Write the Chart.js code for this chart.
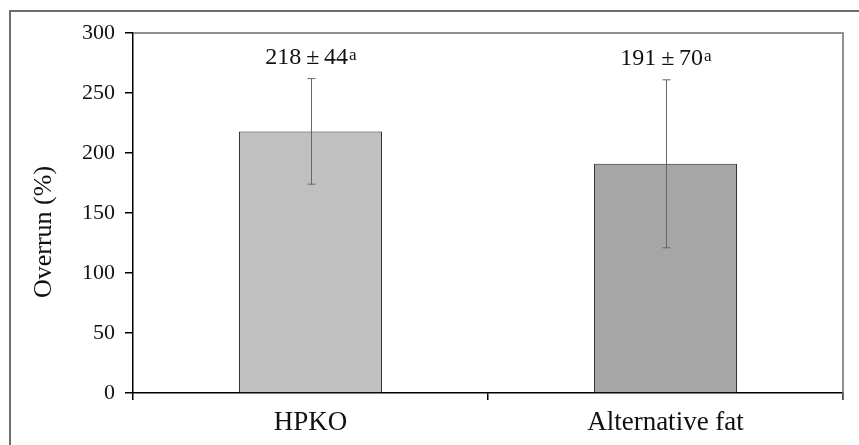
<!DOCTYPE html>
<html>
<head>
<meta charset="utf-8">
<title>Overrun</title>
<script src="https://cdn.jsdelivr.net/npm/chart.js@4"></script>
<style>
  html, body { margin: 0; padding: 0; background: #fff; }
  #wrap { position: relative; width: 859px; height: 445px; overflow: hidden; }
  #frame { position: absolute; left: 9px; top: 10px; width: 900px; height: 500px;
           border-left: 2px solid #6e6e6e; border-top: 2px solid #6e6e6e; }
  #chart { position: absolute; left: 0; top: 0; }
</style>
</head>
<body>
<div id="wrap">
  <div id="frame"></div>
  <canvas id="chart" width="859" height="445"></canvas>
</div>
<script>
const categories = ['HPKO', 'Alternative fat'];
const overrun = [218, 191];
const overrunSd = [44, 70];
const sigLetters = ['a', 'a'];
const barColors = ['#c0c0c0', '#a6a6a6'];
const yMin = 0;
const yMax = 300;
const yStep = 50;

const serif = '"Liberation Serif", "Times New Roman", serif';

// error bars, value labels, box outline and y title
const extras = {
  id: 'extras',
  afterDatasetsDraw(chart) {
    const { ctx, chartArea, scales: { y } } = chart;
    const meta = chart.getDatasetMeta(0);
    ctx.save();

    // top and right edges of the plot box
    ctx.strokeStyle = '#6e6e6e';
    ctx.lineWidth = 1.5;
    ctx.beginPath();
    ctx.moveTo(chartArea.left, chartArea.top);
    ctx.lineTo(chartArea.right, chartArea.top);
    ctx.lineTo(chartArea.right, chartArea.bottom + 7);
    ctx.stroke();

    meta.data.forEach((bar, i) => {
      const cx = Math.round(bar.x) + 0.5;
      const hi = y.getPixelForValue(overrun[i] + overrunSd[i]);
      const lo = y.getPixelForValue(overrun[i] - overrunSd[i]);
      ctx.strokeStyle = '#666';
      ctx.lineWidth = 1;
      ctx.beginPath();
      ctx.moveTo(cx, hi); ctx.lineTo(cx, lo);
      ctx.moveTo(cx - 4, hi); ctx.lineTo(cx + 4, hi);
      ctx.moveTo(cx - 4, lo); ctx.lineTo(cx + 4, lo);
      ctx.stroke();

      const main = overrun[i] + '\u2009\u00b1\u2009' + overrunSd[i];
      ctx.fillStyle = '#111';
      ctx.textBaseline = 'alphabetic';
      ctx.font = '24px ' + serif;
      const w1 = ctx.measureText(main).width;
      ctx.font = '17px ' + serif;
      const w2 = ctx.measureText(sigLetters[i]).width;
      const x0 = bar.x - (w1 + w2) / 2;
      const base = hi - 15;
      ctx.font = '24px ' + serif;
      ctx.textAlign = 'left';
      ctx.fillText(main, x0, base);
      ctx.font = '17px ' + serif;
      ctx.fillText(sigLetters[i], x0 + w1 + 1, base - 4);
    });

    // y axis title
    ctx.translate(44, (chartArea.top + chartArea.bottom) / 2 + 19);
    ctx.rotate(-Math.PI / 2);
    ctx.font = '26px ' + serif;
    ctx.fillStyle = '#111';
    ctx.textAlign = 'center';
    ctx.textBaseline = 'middle';
    ctx.fillText('Overrun (%)', 0, 0);
    ctx.restore();
  }
};

new Chart(document.getElementById('chart'), {
  type: 'bar',
  data: {
    labels: categories,
    datasets: [{
      data: overrun,
      backgroundColor: barColors,
      borderColor: '#2a2a2a',
      borderWidth: 1,
      barPercentage: 0.403,
      categoryPercentage: 1
    }]
  },
  options: {
    responsive: false,
    animation: false,
    layout: { padding: { top: 33, right: 16, left: 0, bottom: 0 } },
    plugins: { legend: { display: false }, tooltip: { enabled: false } },
    scales: {
      x: {
        afterFit(scale) { scale.height = 52; },
        border: { color: '#000', width: 1.5 },
        grid: { drawOnChartArea: false, color: '#000', lineWidth: 1.5, tickLength: 7, offset: true },
        ticks: { color: '#111', font: { family: serif, size: 27 }, padding: 7 }
      },
      y: {
        min: yMin,
        max: yMax,
        afterFit(scale) { scale.width = 133; },
        border: { color: '#000', width: 1.5 },
        grid: { drawOnChartArea: false, color: '#000', lineWidth: 1.5, tickLength: 8 },
        ticks: { stepSize: yStep, color: '#111', font: { family: serif, size: 22 }, padding: 10 }
      }
    }
  },
  plugins: [extras]
});
</script>
</body>
</html>
